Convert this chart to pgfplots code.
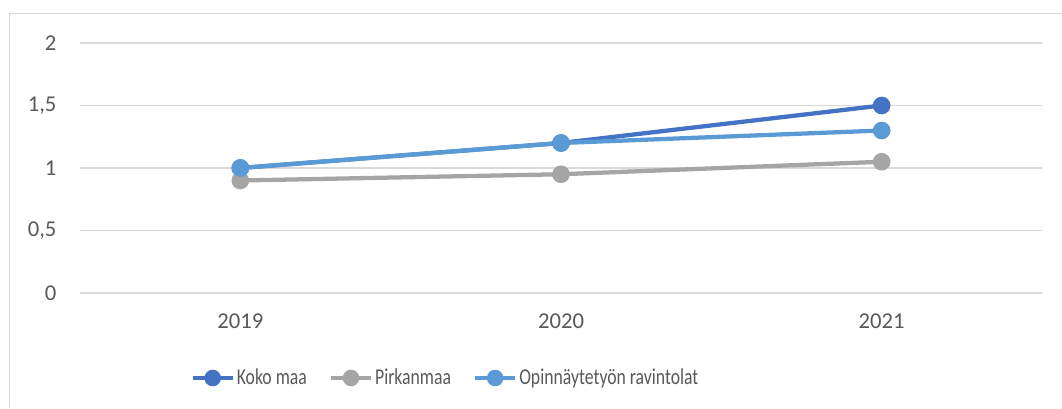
\documentclass[border=0pt]{standalone}
\usepackage{fontspec}
\setmainfont{Carlito}
\newfontfamily\legfont[FakeStretch=0.78]{Carlito}
\usepackage{pgfplots}
\pgfplotsset{compat=1.18}
\definecolor{koko}{HTML}{4472C4}
\definecolor{pirk}{HTML}{A5A5A5}
\definecolor{opin}{HTML}{5B9BD5}
\definecolor{txt}{HTML}{595959}
\definecolor{grd}{HTML}{D9D9D9}

\begin{document}
\begin{tikzpicture}
  % page = 1062 x 408 px at 0.75pt per px
  \path[use as bounding box] (0,0) rectangle (796.5pt,306pt);
  \draw[grd, line width=1.2pt] (7.1pt,0) -- (7.1pt,295.9pt) -- (796.5pt,295.9pt);
  \begin{axis}[
      at={(60pt,86.25pt)}, anchor=south west,
      scale only axis, width=721.5pt, height=187.5pt,
      xmin=-0.5, xmax=2.5, ymin=0, ymax=2,
      xtick={0,1,2}, xticklabels={2019,2020,2021},
      ytick={0,0.5,1,1.5,2}, yticklabels={0,{0,5},1,{1,5},2},
      axis line style={draw=none},
      major tick length=0pt,
      ymajorgrids, grid style={grd, line width=1.1pt},
      tick label style={font=\fontsize{17}{19}\selectfont, text=txt, inner sep=0pt},
      yticklabel style={anchor=east, xshift=-17.5pt},
      xticklabel style={anchor=center, yshift=-21.5pt},
      every axis plot/.append style={line width=3.2pt, mark=*, mark size=5pt},
      legend columns=3,
      legend style={at={(0.1105,-0.34)}, anchor=west, draw=none, fill=none,
        font=\legfont\fontsize{17}{19}\selectfont, text=txt,
        nodes={inner sep=1.5pt},
        /tikz/every even column/.append style={column sep=15pt}},
      legend image code/.code={%
        \draw[mark repeat=2, mark phase=2, mark size=4.6pt, #1]
          plot coordinates {(0pt,0pt) (15pt,0pt) (30pt,0pt)};},
    ]
    \addplot[koko, mark options={fill=koko, draw=koko}] coordinates {(0,1.0) (1,1.2) (2,1.5)};
    \addlegendentry{Koko maa}
    \addplot[pirk, mark options={fill=pirk, draw=pirk}] coordinates {(0,0.9) (1,0.95) (2,1.05)};
    \addlegendentry{Pirkanmaa}
    \addplot[opin, mark options={fill=opin, draw=opin}] coordinates {(0,1.0) (1,1.2) (2,1.3)};
    \addlegendentry{Opinnäytetyön ravintolat}
  \end{axis}
\end{tikzpicture}
\end{document}
